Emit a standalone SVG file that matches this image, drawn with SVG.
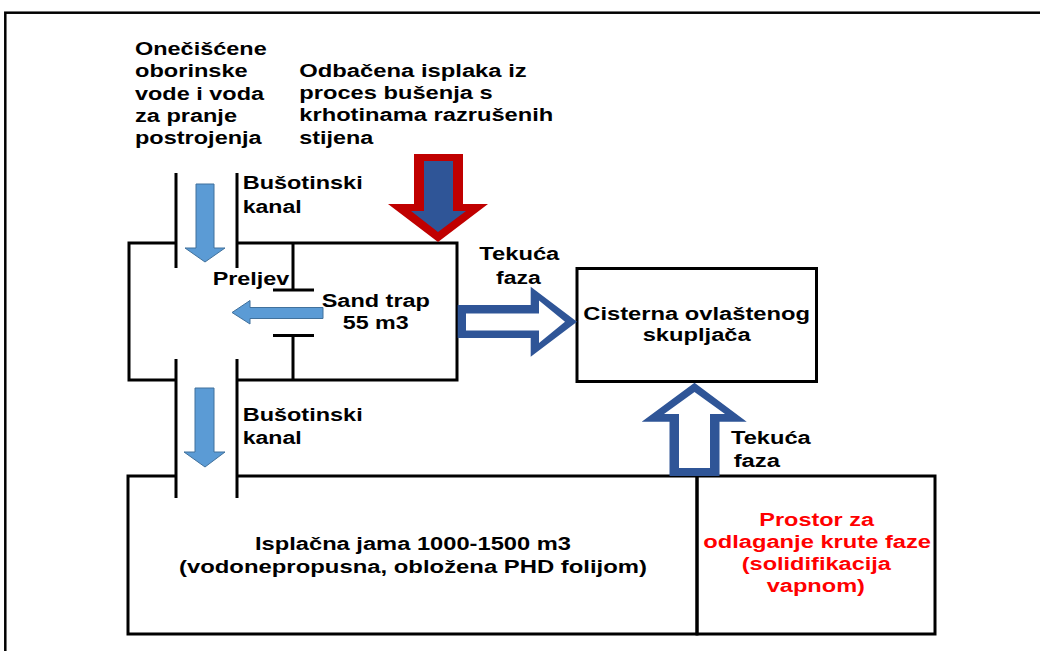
<svg xmlns="http://www.w3.org/2000/svg" width="1040" height="651" viewBox="0 0 1040 651">
<style>
text{font-family:"Liberation Sans",Arial,sans-serif;font-weight:bold;font-size:17.5px;fill:#000}
.red{fill:#FF0000}
.ln{stroke:#000;stroke-width:3;fill:none;stroke-linecap:butt}
.lb{fill:#5B9BD5;stroke:#41719C;stroke-width:1}
.db{fill:#2F5597}
.rd{fill:#C00000}
.wh{fill:#FFFFFF}
</style>
<rect x="5.3" y="12.7" width="1100" height="700" fill="none" stroke="#000" stroke-width="2.5"/>

<g id="texts-top">
<text x="135" y="54.5" textLength="131.7" lengthAdjust="spacingAndGlyphs">Onečišćene</text>
<text x="135" y="77" textLength="112.7" lengthAdjust="spacingAndGlyphs">oborinske</text>
<text x="135" y="99.5" textLength="129" lengthAdjust="spacingAndGlyphs">vode i voda</text>
<text x="135" y="121.5" textLength="102" lengthAdjust="spacingAndGlyphs">za pranje</text>
<text x="135" y="144" textLength="126.7" lengthAdjust="spacingAndGlyphs">postrojenja</text>
<text x="299.3" y="76.5" textLength="227.4" lengthAdjust="spacingAndGlyphs">Odbačena isplaka iz</text>
<text x="299.3" y="98.5" textLength="193.4" lengthAdjust="spacingAndGlyphs">proces bušenja s</text>
<text x="299.3" y="121" textLength="254" lengthAdjust="spacingAndGlyphs">krhotinama razrušenih</text>
<text x="299.3" y="143.5" textLength="74" lengthAdjust="spacingAndGlyphs">stijena</text>
</g>

<g id="sandtrap">
<path class="ln" d="M176,243 H129 V380 H176 M237,243 H457 V380 H237"/>
<path class="ln" d="M293,243 V290 M273,290 H314 M273,335.5 H314 M293,335.5 V380"/>
<text x="212.7" y="284.7" textLength="76.6" lengthAdjust="spacingAndGlyphs">Preljev</text>
<text x="321.7" y="306.7" textLength="108.3" lengthAdjust="spacingAndGlyphs">Sand trap</text>
<text x="342.7" y="329.3" textLength="66" lengthAdjust="spacingAndGlyphs">55 m3</text>
</g>

<g id="kanal-upper">
<path class="ln" d="M176,173 V268 M237,173 V268"/>
<text x="242.7" y="189.3" textLength="120" lengthAdjust="spacingAndGlyphs">Bušotinski</text>
<text x="242.7" y="213.3" textLength="59" lengthAdjust="spacingAndGlyphs">kanal</text>
</g>

<g id="kanal-lower">
<path class="ln" d="M176,359 V498 M237,359 V498"/>
<text x="242.7" y="420.7" textLength="120" lengthAdjust="spacingAndGlyphs">Bušotinski</text>
<text x="242.7" y="444" textLength="59" lengthAdjust="spacingAndGlyphs">kanal</text>
</g>

<g id="cisterna">
<rect class="ln" x="577" y="268.5" width="239.5" height="113"/>
<text x="583.3" y="320" textLength="226.7" lengthAdjust="spacingAndGlyphs">Cisterna ovlaštenog</text>
<text x="642.7" y="340.5" textLength="108" lengthAdjust="spacingAndGlyphs">skupljača</text>
</g>

<g id="jama">
<path class="ln" d="M176,476 H128 V634 H697 V476 H237"/>
<text x="255" y="550" textLength="316" lengthAdjust="spacingAndGlyphs">Isplačna jama 1000-1500 m3</text>
<text x="179" y="573" textLength="468" lengthAdjust="spacingAndGlyphs">(vodonepropusna, obložena PHD folijom)</text>
</g>

<g id="prostor">
<rect class="ln" x="697" y="476" width="238" height="158"/>
<text class="red" x="759.3" y="526" textLength="114.7" lengthAdjust="spacingAndGlyphs">Prostor za</text>
<text class="red" x="703.3" y="548.3" textLength="227.7" lengthAdjust="spacingAndGlyphs">odlaganje krute faze</text>
<text class="red" x="741.7" y="570" textLength="149.3" lengthAdjust="spacingAndGlyphs">(solidifikacija</text>
<text class="red" x="766.7" y="591.7" textLength="98.3" lengthAdjust="spacingAndGlyphs">vapnom)</text>
</g>

<g id="connectors">
<polygon class="lb" points="196,184 214,184 214,248 225,248 205,262 185,248 196,248"/>
<polygon class="lb" points="195,388 214,388 214,452 225,452 205,467 184,452 195,452"/>
<polygon class="lb" points="323,307.5 250,307.5 250,300.5 232,312.5 250,324 250,318.5 323,318.5"/>
<polygon class="rd" points="414,154 463,154 463,204 488,204 438,242 388,204 414,204"/>
<polygon class="db" points="424,161 453,161 453,211 466,211 438,232 411,211 424,211"/>
<polygon class="db" points="457.7,305 530.7,305 530.7,286.7 577,321.7 530.7,356.7 530.7,338 457.7,338"/>
<polygon class="wh" points="466,313.5 539,313.5 539,300.5 565,321.7 539,343 539,330.5 466,330.5"/>
<polygon class="db" points="669.5,476 719.5,476 719.5,421.7 746.7,421.7 694.5,382.7 641.7,421.7 669.5,421.7"/>
<polygon class="wh" points="679,468 710,468 710,414 725,414 694.5,392 664,414 679,414"/>
<text x="479.3" y="260" textLength="80" lengthAdjust="spacingAndGlyphs">Tekuća</text>
<text x="496" y="284" textLength="44.7" lengthAdjust="spacingAndGlyphs">faza</text>
<text x="731" y="444" textLength="79.7" lengthAdjust="spacingAndGlyphs">Tekuća</text>
<text x="733.7" y="466.7" textLength="46.3" lengthAdjust="spacingAndGlyphs">faza</text>
</g>
</svg>
